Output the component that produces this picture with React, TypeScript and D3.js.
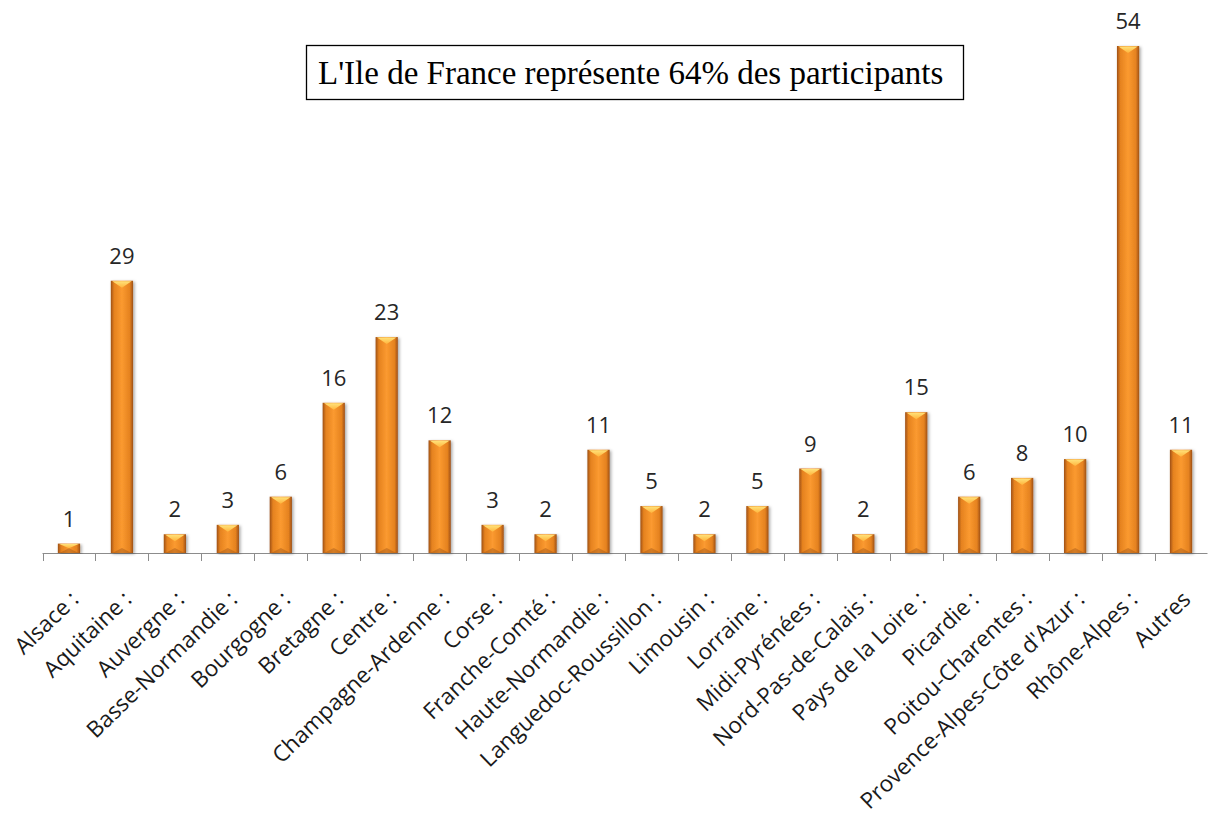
import * as d3 from 'd3';
import { useEffect, useRef } from 'react';

const regions = [
  'Alsace :', 'Aquitaine :', 'Auvergne :', 'Basse-Normandie :', 'Bourgogne :',
  'Bretagne :', 'Centre :', 'Champagne-Ardenne :', 'Corse :', 'Franche-Comté :',
  'Haute-Normandie :', 'Languedoc-Roussillon :', 'Limousin :', 'Lorraine :',
  'Midi-Pyrénées :', 'Nord-Pas-de-Calais :', 'Pays de la Loire :', 'Picardie :',
  'Poitou-Charentes :', "Provence-Alpes-Côte d'Azur :", 'Rhône-Alpes :', 'Autres',
];
const participants = [1, 29, 2, 3, 6, 16, 23, 12, 3, 2, 11, 5, 2, 5, 9, 2, 15, 6, 8, 10, 54, 11];
const note = "L'Ile de France représente 64% des participants";

export default function App() {
  const ref = useRef<SVGSVGElement>(null);

  useEffect(() => {
    const svg = d3.select(ref.current);
    svg.selectAll('*').remove();

    const baseY = 553;
    const labelFont = "'Open Sans', sans-serif";

    const x = d3.scaleBand<string>()
      .domain(regions)
      .range([42.5, 1207.5])
      .paddingInner(0.58)
      .paddingOuter(0.29);
    const y = d3.scaleLinear().domain([0, 54]).range([baseY, 46]);
    const step = x.step();
    const bw = x.bandwidth();

    const defs = svg.append('defs');
    const body = defs.append('linearGradient').attr('id', 'barBody').attr('x1', 0).attr('x2', 1).attr('y1', 0).attr('y2', 0);
    [[0, '#9e5016'], [0.15, '#e5821f'], [0.5, '#fb9a30'], [0.85, '#e5821f'], [1, '#9e5016']]
      .forEach(([o, c]) => body.append('stop').attr('offset', o as number).attr('stop-color', c as string));
    const top = defs.append('linearGradient').attr('id', 'barTop').attr('x1', 0).attr('x2', 0).attr('y1', 0).attr('y2', 1);
    top.append('stop').attr('offset', 0).attr('stop-color', '#ffe27a');
    top.append('stop').attr('offset', 1).attr('stop-color', '#ffb43c');
    const shadow = defs.append('filter').attr('id', 'shadow').attr('x', '-30%').attr('y', '-5%').attr('width', '160%').attr('height', '110%');
    shadow.append('feDropShadow').attr('dx', 1.5).attr('dy', 1).attr('stdDeviation', 1.5).attr('flood-color', '#000').attr('flood-opacity', 0.35);

    // axis line and ticks
    svg.append('line')
      .attr('x1', x.range()[0]).attr('x2', x.range()[1])
      .attr('y1', baseY + 0.5).attr('y2', baseY + 0.5)
      .attr('stroke', '#8c8c8c').attr('stroke-width', 1);
    svg.append('g').selectAll('line')
      .data(d3.range(regions.length + 1))
      .join('line')
      .attr('x1', i => Math.round(x.range()[0] + i * step) + 0.5)
      .attr('x2', i => Math.round(x.range()[0] + i * step) + 0.5)
      .attr('y1', baseY).attr('y2', baseY + 8)
      .attr('stroke', '#8c8c8c');

    const rows = regions.map((r, i) => ({ r, v: participants[i] }));

    // bars
    const bars = svg.append('g').selectAll('g')
      .data(rows)
      .join('g');

    bars.append('rect')
      .attr('x', d => x(d.r)!)
      .attr('y', d => y(d.v))
      .attr('width', bw)
      .attr('height', d => baseY - y(d.v))
      .attr('fill', 'url(#barBody)')
      .attr('filter', 'url(#shadow)');

    bars.append('polygon')
      .attr('points', d => {
        const x0 = x(d.r)!, x1 = x0 + bw, t = y(d.v);
        const dep = Math.min(7, (baseY - t) / 2);
        return `${x0 + 1.5},${t + 0.5} ${x1 - 1.5},${t + 0.5} ${(x0 + x1) / 2},${t + dep}`;
      })
      .attr('fill', 'url(#barTop)');
    bars.append('polygon')
      .attr('points', d => {
        const x0 = x(d.r)!, x1 = x0 + bw, t = y(d.v);
        const dep = Math.min(5, (baseY - t) / 2);
        return `${x0 + 1.5},${baseY} ${x1 - 1.5},${baseY} ${(x0 + x1) / 2},${baseY - dep}`;
      })
      .attr('fill', '#8a4612').attr('opacity', 0.35);

    // value labels
    svg.append('g').selectAll('text')
      .data(rows)
      .join('text')
      .attr('x', d => x(d.r)! + bw / 2)
      .attr('y', d => y(d.v) - 17)
      .attr('text-anchor', 'middle')
      .attr('font-family', labelFont)
      .attr('font-size', 22)
      .attr('fill', '#262626')
      .text(d => d.v);

    // category labels
    svg.append('g').selectAll('text')
      .data(regions)
      .join('text')
      .attr('transform', d => `translate(${x(d)! + bw / 2 + 11},${baseY + 48}) rotate(-44)`)
      .attr('text-anchor', 'end')
      .attr('font-family', labelFont)
      .attr('font-size', 22.5)
      .attr('fill', '#1a1a1a')
      .text(d => d);

    // note box
    svg.append('rect')
      .attr('x', 306.5).attr('y', 45.5).attr('width', 657).attr('height', 54)
      .attr('fill', '#fff').attr('stroke', '#000').attr('stroke-width', 1.3);
    svg.append('text')
      .attr('x', 318).attr('y', 84)
      .attr('font-family', "'Liberation Serif', 'Times New Roman', serif")
      .attr('font-size', 33)
      .attr('fill', '#000')
      .text(note);
  }, []);

  return (
    <svg ref={ref} width={1208} height={816}
      style={{ position: 'absolute', left: 0, top: 0, background: '#fff', display: 'block' }} />
  );
}
